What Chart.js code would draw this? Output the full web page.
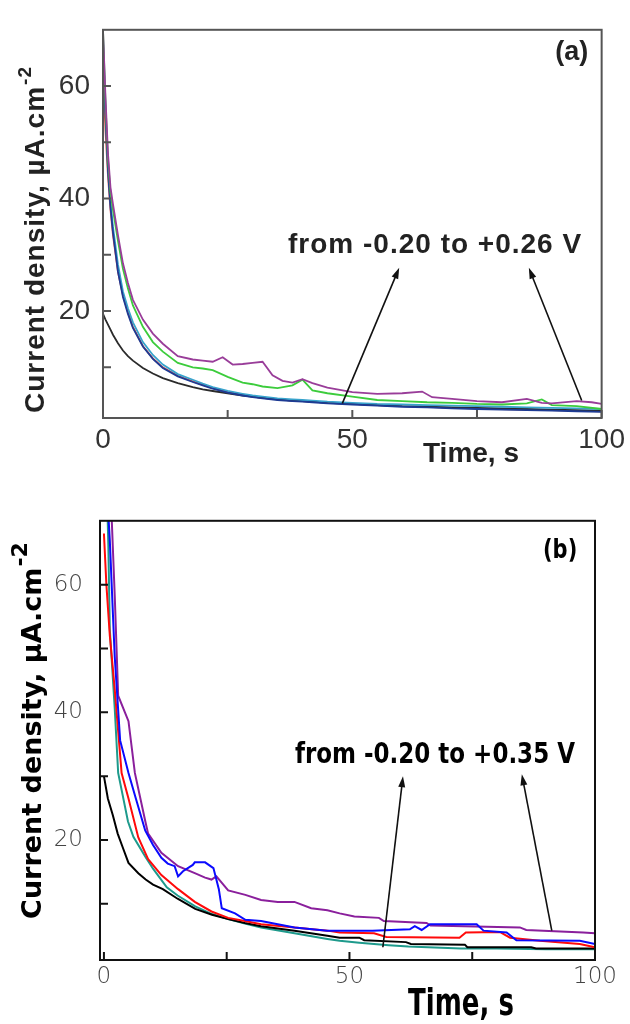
<!DOCTYPE html>
<html>
<head>
<meta charset="utf-8">
<script src="https://cdn.jsdelivr.net/npm/chart.js"></script>
<style>
  body { margin: 0; background: #fff; width: 630px; height: 1024px; overflow: hidden; position: relative; }
  .panel { position: absolute; left: 0; width: 630px; }
  #panelA { top: 0; height: 480px; }
  #panelB { top: 490px; height: 534px; }
</style>
</head>
<body>
<div class="panel" id="panelA"><canvas id="chartA"></canvas></div>
<div class="panel" id="panelB"><canvas id="chartB"></canvas></div>
<script>
// ---- panel (a): -0.20 .. +0.26 V ----
const TIME_A = [0, 0.5, 1, 1.5, 2, 3, 4, 5, 6, 8, 10, 12, 15, 18, 20, 22, 25, 28, 30, 32, 35, 38, 40, 42, 45, 50, 55, 60, 65, 70, 75, 80, 85, 90, 95, 100];
const CUR_A_BLACK = [19.5, 18.5, 17.6, 16.7, 15.8, 14.3, 13.0, 12.0, 11.2, 9.9, 8.9, 8.1, 7.2, 6.5, 6.1, 5.8, 5.4, 5.0, 4.8, 4.6, 4.3, 4.1, 4.0, 3.9, 3.7, 3.5, 3.3, 3.1, 3.0, 2.9, 2.8, 2.7, 2.6, 2.5, 2.4, 2.3];
const CUR_A_BLUE = [68, 55, 45, 38.5, 34, 27, 22.5, 19.5, 17, 13.7, 11.5, 9.9, 8.4, 7.4, 6.8, 6.2, 5.5, 5.0, 4.7, 4.5, 4.2, 4.0, 3.9, 3.8, 3.6, 3.4, 3.2, 3.0, 2.9, 2.7, 2.6, 2.5, 2.4, 2.3, 2.2, 2.1];
const CUR_A_CYAN = [69, 56, 46, 39.5, 35, 28.3, 23.5, 20.5, 18, 14.5, 12.2, 10.5, 8.8, 7.8, 7.1, 6.5, 5.8, 5.3, 5.0, 4.8, 4.5, 4.3, 4.2, 4.1, 3.9, 3.7, 3.5, 3.4, 3.3, 3.2, 3.1, 3.0, 2.9, 2.8, 2.7, 2.6];
const CUR_A_RED = [62, 52, 44, 38, 33.5, 27, 22.8, 19.8, 17.2, 13.8, 11.6, 10.0, 8.5, 7.5, 6.9, 6.3, 5.6, 5.1, 4.8, 4.6, 4.3, 4.1, 4.0, 3.9, 3.7, 3.5, 3.3, 3.1, 3.0, 2.8, 2.7, 2.6, 2.5, 2.4, 2.3, 2.2];
const TIME_A_GREEN = [0, 0.5, 1, 1.5, 2, 3, 4, 5, 6, 8, 10, 12, 15, 18, 20, 22, 25, 28, 30, 32, 35, 38, 40, 42, 45, 50, 55, 60, 65, 70, 75, 80, 85, 88, 90, 95, 100];
const CUR_A_GREEN = [70, 57, 47, 41, 38, 32.5, 27.5, 24, 21, 17.2, 14.5, 12.8, 10.8, 10.0, 9.8, 9.5, 8.3, 7.3, 7.0, 6.6, 6.3, 6.8, 7.8, 5.9, 5.4, 4.8, 4.2, 4.0, 3.8, 3.7, 3.5, 3.4, 3.6, 4.3, 3.3, 3.1, 2.6];
const TIME_A_PURPLE = [0, 0.5, 1, 1.5, 2, 3, 4, 5, 6, 8, 10, 12, 15, 18, 20, 22, 24, 26, 28, 30, 32, 34, 36, 38, 40, 42, 45, 50, 55, 60, 64, 66, 70, 75, 80, 85, 88, 90, 95, 98, 100];
const CUR_A_PURPLE = [70, 58, 48, 42, 39, 33.5, 28.5, 25, 22, 18.5, 16, 14.2, 12.0, 11.4, 11.2, 11.0, 11.8, 10.5, 10.6, 10.8, 11.0, 8.6, 7.6, 7.3, 7.9, 7.2, 6.4, 5.6, 5.3, 5.4, 5.7, 4.7, 4.4, 4.0, 3.8, 4.4, 3.7, 3.6, 4.0, 3.8, 3.5];

// ---- panel (b): -0.20 .. +0.35 V ----
const TIME_B_BLACK = [0, 0.8, 1.8, 2.8, 3.8, 5, 7, 8.5, 10, 12, 15, 18.6, 22, 25.3, 28.7, 32, 38.8, 45.5, 48, 52, 53, 61.5, 62.5, 73.5, 74, 87, 88, 100];
const CUR_B_BLACK = [30.0, 26.5, 23.9, 21.0, 18.9, 16.4, 14.8, 13.8, 13.0, 12.3, 10.8, 9.2, 8.3, 7.6, 7.0, 6.5, 5.8, 5.0, 4.7, 4.7, 4.3, 4.0, 3.7, 3.6, 3.2, 3.2, 3.0, 3.0];
const TIME_B_TEAL = [0.6, 0.9, 1.2, 2.2, 2.9, 4.9, 6, 8.4, 10, 12.8, 15, 18.6, 22, 25.3, 28.7, 32, 38.8, 45.5, 48, 52, 58, 62, 72.7, 80, 90, 100];
const CUR_B_TEAL = [75, 66, 53, 40.6, 30.5, 22.9, 20.5, 17.4, 15.5, 12.6, 11.3, 9.6, 8.4, 7.6, 6.9, 6.3, 5.4, 4.5, 4.2, 3.9, 3.5, 3.3, 3.0, 3.0, 2.9, 2.9];
const TIME_B_RED = [0, 0.5, 1.2, 2.2, 3.6, 5, 7, 9, 11.7, 15.1, 18.5, 21.9, 25.3, 28.7, 32, 38.8, 45.5, 48, 55, 57.5, 72.4, 73.7, 80.6, 82.7, 88.8, 96.9, 100];
const CUR_B_RED = [68, 60, 52, 43.6, 30.5, 26.5, 20.4, 17, 14.5, 12.3, 10.3, 8.8, 7.8, 7.3, 6.8, 6.3, 5.8, 5.5, 5.4, 4.8, 4.7, 5.5, 5.6, 4.7, 4.2, 3.7, 3.2];
const TIME_B_BLUE = [0.6, 1.2, 2.2, 3.3, 5, 6.5, 8.4, 10, 11.7, 13, 14.4, 15.1, 16.1, 18.1, 18.5, 20.6, 22.3, 23.4, 24, 26.7, 28.8, 32, 38.8, 45.5, 54.7, 62.3, 63.3, 64.7, 66.4, 75.9, 77.3, 82, 84, 96.9, 100];
const CUR_B_BLUE = [75, 66.9, 48.7, 35.6, 30.5, 26.5, 21.5, 19.2, 17.2, 16.3, 15.9, 14.3, 15.1, 16.1, 16.5, 16.5, 15.6, 12.3, 9.3, 8.5, 7.5, 7.3, 6.3, 5.8, 5.8, 6.0, 6.5, 5.9, 6.8, 6.8, 5.8, 5.5, 4.3, 4.2, 3.7];
const TIME_B_PURPLE = [1.2, 1.6, 2.2, 2.9, 5, 6.3, 8.4, 9, 11.7, 15.1, 18.5, 20.6, 21.9, 22.9, 25.3, 28.8, 32, 35.4, 38.8, 42.2, 45.5, 48, 51, 56, 57, 65.7, 66.5, 84.7, 86, 97.6, 100];
const CUR_B_PURPLE = [78, 70, 58.3, 42.6, 38.6, 30.5, 23, 21, 18, 15.9, 14.8, 14.1, 13.8, 14.3, 12.1, 11.4, 10.6, 10.3, 10.3, 9.3, 9.0, 8.5, 8.0, 7.8, 7.3, 7.0, 6.6, 6.3, 5.9, 5.5, 5.4];

// tick values
const X_TICKS = [0, 25, 50, 75, 100];
const X_LABELS = [0, 50, 100];
const Y_TICKS = [10, 20, 30, 40, 50, 60];
const Y_LABELS = [20, 40, 60];

// annotations (data coordinates)
const NOTE_A = 'from -0.20 to +0.26 V';
const NOTE_B = 'from -0.20 to +0.35 V';
const ARROWS_A = [[48, 3.6, 59.4, 27.7], [96, 4.1, 85.4, 27.7]];
const ARROWS_B = [[56.8, 3.2, 60.9, 30.0], [91.2, 5.8, 85.1, 30.3]];

const pts = (t, j) => t.map((v, i) => ({ x: v, y: j[i] }));

const serie = (label, t, j, color, width) => ({
    label: label,
    data: pts(t, j),
    borderColor: color,
    borderWidth: width,
    pointRadius: 0,
    fill: false,
    tension: 0
});

const drawText = (ctx, n, cx, cy) => {
    ctx.save();
    ctx.translate(cx, cy);
    ctx.scale(1, n.sy || 1);
    ctx.font = n.font;
    ctx.letterSpacing = n.spacing || '0px';
    ctx.fillStyle = n.color || '#000';
    ctx.textAlign = 'center';
    ctx.textBaseline = 'middle';
    ctx.fillText(n.text, 0, 0);
    ctx.restore();
};

const drawArrow = (ctx, x0, y0, x1, y1, color) => {
    const ang = Math.atan2(y1 - y0, x1 - x0);
    const len = 11, half = 3.5;
    ctx.save();
    ctx.strokeStyle = color;
    ctx.fillStyle = color;
    ctx.lineWidth = 1.6;
    ctx.beginPath();
    ctx.moveTo(x0, y0);
    ctx.lineTo(x1 - Math.cos(ang) * len * 0.8, y1 - Math.sin(ang) * len * 0.8);
    ctx.stroke();
    ctx.beginPath();
    ctx.moveTo(x1, y1);
    ctx.lineTo(x1 - Math.cos(ang) * len + Math.sin(ang) * half, y1 - Math.sin(ang) * len - Math.cos(ang) * half);
    ctx.lineTo(x1 - Math.cos(ang) * len - Math.sin(ang) * half, y1 - Math.sin(ang) * len + Math.cos(ang) * half);
    ctx.closePath();
    ctx.fill();
    ctx.restore();
};

const drawYTitle = (ctx, t) => {
    ctx.save();
    ctx.translate(t.x, t.y);
    ctx.rotate(-Math.PI / 2);
    ctx.fillStyle = t.color;
    ctx.textAlign = 'left';
    ctx.textBaseline = 'middle';
    ctx.letterSpacing = t.spacing || '0px';
    ctx.font = t.font;
    const w1 = ctx.measureText(t.text).width;
    ctx.font = t.supFont;
    const w2 = ctx.measureText(t.sup).width;
    const start = -(w1 + w2) / 2;
    ctx.font = t.font;
    ctx.fillText(t.text, start, 0);
    ctx.font = t.supFont;
    ctx.fillText(t.sup, start + w1 + 1, -t.raise);
    ctx.restore();
};

// frame, inward ticks, arrows, notes and axis titles
const decor = {
    id: 'decor',
    afterDraw(chart, args, o) {
        const { ctx, chartArea: a, scales: { x, y } } = chart;
        ctx.save();
        ctx.strokeStyle = o.frame;
        ctx.lineWidth = o.frameWidth;
        ctx.strokeRect(a.left, a.top, a.right - a.left, a.bottom - a.top);
        ctx.beginPath();
        X_TICKS.forEach(v => {
            const px = x.getPixelForValue(v);
            ctx.moveTo(px, a.bottom);
            ctx.lineTo(px, a.bottom - o.tickLen);
        });
        Y_TICKS.forEach(v => {
            const py = y.getPixelForValue(v);
            ctx.moveTo(a.left, py);
            ctx.lineTo(a.left + o.tickLen, py);
        });
        ctx.stroke();
        ctx.restore();

        o.arrows.forEach(([x0, y0, x1, y1]) => drawArrow(ctx,
            x.getPixelForValue(x0), y.getPixelForValue(y0),
            x.getPixelForValue(x1), y.getPixelForValue(y1), '#111'));
        o.notes.forEach(n => drawText(ctx, n, x.getPixelForValue(n.x), y.getPixelForValue(n.y)));
        drawText(ctx, o.xTitle, o.xTitle.px, o.xTitle.py);
        drawYTitle(ctx, o.yTitle);
    }
};

const makeChart = (id, cfg) => new Chart(document.getElementById(id), {
    type: 'line',
    data: { datasets: cfg.datasets },
    plugins: [decor],
    options: {
        responsive: true,
        maintainAspectRatio: false,
        animation: false,
        layout: { padding: { top: cfg.padTop, right: cfg.padRight, left: 0, bottom: 0 } },
        plugins: {
            legend: { display: false },
            tooltip: { enabled: false },
            decor: cfg.decor
        },
        scales: {
            x: {
                type: 'linear',
                min: cfg.xMin,
                max: 100,
                grid: { display: false, drawTicks: false },
                border: { display: false },
                afterBuildTicks: axis => { axis.ticks = X_TICKS.map(v => ({ value: v })); },
                afterFit: s => { s.height = cfg.xHeight; },
                ticks: {
                    autoSkip: false,
                    maxRotation: 0,
                    padding: cfg.xPad,
                    color: cfg.tickColor,
                    font: cfg.tickFont,
                    callback: v => X_LABELS.includes(v) ? String(v) : ''
                }
            },
            y: {
                type: 'linear',
                min: cfg.yMin,
                max: 70,
                grid: { display: false, drawTicks: false },
                border: { display: false },
                afterBuildTicks: axis => { axis.ticks = Y_TICKS.map(v => ({ value: v })); },
                afterFit: s => { s.width = cfg.yWidth; },
                ticks: {
                    autoSkip: false,
                    padding: cfg.yPad,
                    color: cfg.tickColor,
                    font: cfg.tickFont,
                    callback: v => Y_LABELS.includes(v) ? String(v) : ''
                }
            }
        }
    }
});

makeChart('chartA', {
    padTop: 15, padRight: 27, xHeight: 62, yWidth: 103, xPad: 5, yPad: 13,
    xMin: 0, yMin: 1,
    tickColor: '#333',
    tickFont: { family: "'Liberation Sans', Arial, sans-serif", size: 28 },
    datasets: [
        serie('purple', TIME_A_PURPLE, CUR_A_PURPLE, '#993d99', 1.8),
        serie('green', TIME_A_GREEN, CUR_A_GREEN, '#3ccc3c', 1.8),
        serie('blue', TIME_A, CUR_A_BLUE, '#1d3b94', 1.8),
        serie('cyan', TIME_A, CUR_A_CYAN, '#38a3cc', 1.8),
        serie('black', TIME_A, CUR_A_BLACK, '#2b2b2b', 1.8),
        serie('red', TIME_A, CUR_A_RED, '#d9534f', 1.8)
    ],
    decor: {
        frame: '#555', frameWidth: 2, tickLen: 8,
        arrows: ARROWS_A,
        notes: [
            { text: NOTE_A, x: 66.6, y: 31.7, font: "bold 28px 'Liberation Sans', Arial, sans-serif", spacing: '1px', color: '#222' },
            { text: '(a)', x: 94, y: 66, font: "bold 27px 'Liberation Sans', Arial, sans-serif", color: '#222' }
        ],
        xTitle: { text: 'Time, s', px: 471, py: 454, font: "bold 28px 'Liberation Sans', Arial, sans-serif", color: '#222' },
        yTitle: { text: 'Current density, µA.cm', sup: '-2', x: 36, y: 240, raise: 10, spacing: '1px',
                  font: "bold 28px 'Liberation Sans', Arial, sans-serif", supFont: "bold 19px 'Liberation Sans', Arial, sans-serif", color: '#222' }
    }
});

makeChart('chartB', {
    padTop: 16, padRight: 35, xHeight: 64, yWidth: 100, xPad: 3, yPad: 17,
    xMin: -0.8, yMin: 1.2,
    tickColor: '#444',
    tickFont: { family: "'DejaVu Sans', sans-serif", size: 23, weight: 200 },
    datasets: [
        serie('blue', TIME_B_BLUE, CUR_B_BLUE, '#0a0aff', 2),
        serie('red', TIME_B_RED, CUR_B_RED, '#ff0a0a', 2),
        serie('black', TIME_B_BLACK, CUR_B_BLACK, '#000000', 2),
        serie('teal', TIME_B_TEAL, CUR_B_TEAL, '#1e9a8c', 2),
        serie('purple', TIME_B_PURPLE, CUR_B_PURPLE, '#8a1f9c', 2)
    ],
    decor: {
        frame: '#111', frameWidth: 2, tickLen: 8,
        arrows: ARROWS_B,
        notes: [
            { text: NOTE_B, x: 67.4, y: 33.3, font: "bold 23px 'DejaVu Sans', sans-serif", sy: 1.25, color: '#000' },
            { text: '(b)', x: 92.9, y: 65.2, font: "bold 21px 'DejaVu Sans', sans-serif", sy: 1.25, color: '#000' }
        ],
        xTitle: { text: 'Time, s', px: 461, py: 516, font: "bold 26px 'DejaVu Sans', sans-serif", sy: 1.4, color: '#000' },
        yTitle: { text: 'Current density, µA.cm', sup: '-2', x: 34, y: 241, raise: 13,
                  font: "bold 27px 'DejaVu Sans', sans-serif", supFont: "bold 22px 'DejaVu Sans', sans-serif", color: '#000' }
    }
});
</script>
</body>
</html>
